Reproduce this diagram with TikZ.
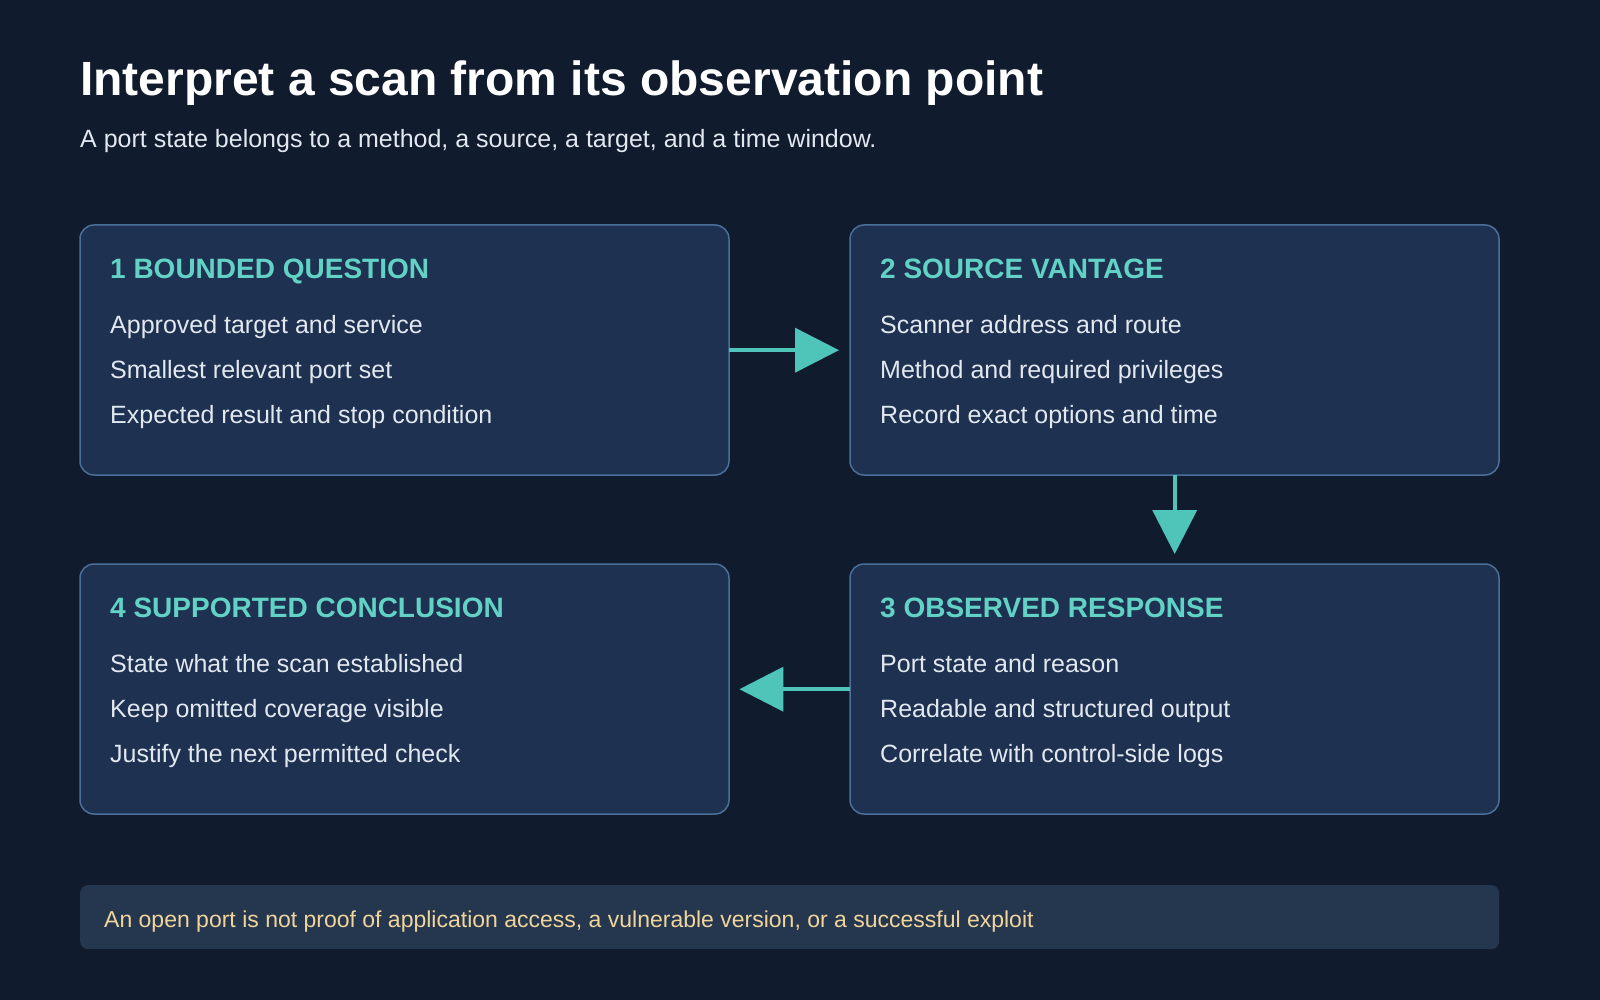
\documentclass[tikz,border=0pt]{standalone}
\usepackage{fontspec}
\setmainfont{Liberation Sans}
\usetikzlibrary{arrows.meta}
\definecolor{bgCol}{HTML}{111B2E}
\definecolor{boxFill}{HTML}{1E3150}
\definecolor{boxLine}{HTML}{4A6F9A}
\definecolor{headCol}{HTML}{62D2C6}
\definecolor{textCol}{HTML}{E2E8F0}
\definecolor{arrowCol}{HTML}{4FC4B8}
\definecolor{noteFill}{HTML}{25374F}
\definecolor{noteText}{HTML}{F0D49C}
\begin{document}
\begin{tikzpicture}
[x=1pt,y=-1pt,
  boxDecorate/.style={draw=boxLine,fill=boxFill,line width=1.5pt,rounded corners=14pt},%
  headDecorate/.style={anchor=base west,inner sep=0pt,text=headCol,font=\fontsize{28}{32}\selectfont\bfseries},%
  lineText/.style={anchor=base west,inner sep=0pt,text=textCol,font=\fontsize{25}{30}\selectfont},%
  flowArrow/.style={draw=arrowCol,line width=4pt,-{Triangle[width=44pt,length=44pt]}}]
\fill[bgCol] (0,0) rectangle (1600,1000);
%% title
\node[anchor=base west,inner sep=0pt,text=white,font=\fontsize{48}{56}\selectfont\bfseries] (title) at (80,96) {Interpret a scan from its observation point};
\node[lineText] (subtitle) at (80,148) {A port state belongs to a method, a source, a target, and a time window.};
%% step boxes
\foreach \boxname/\x/\y/\head/\la/\lb/\lc in {
  b1/80/225/1 BOUNDED QUESTION/Approved target and service/Smallest relevant port set/Expected result and stop condition,
  b2/850/225/2 SOURCE VANTAGE/Scanner address and route/Method and required privileges/Record exact options and time,
  b3/850/564/3 OBSERVED RESPONSE/Port state and reason/Readable and structured output/Correlate with control-side logs,
  b4/80/564/4 SUPPORTED CONCLUSION/State what the scan established/Keep omitted coverage visible/Justify the next permitted check}
{
  \path[boxDecorate] (\x,\y) rectangle +(649,250);
  \node[inner sep=0pt,minimum width=649pt,minimum height=250pt,anchor=north west] (\boxname) at (\x,\y) {};
  \node[headDecorate] (\boxname-h) at (\x+30,\y+53) {\head};
  \node[lineText] (\boxname-a) at (\x+30,\y+108) {\la};
  \node[lineText] (\boxname-b) at (\x+30,\y+153) {\lb};
  \node[lineText] (\boxname-c) at (\x+30,\y+198) {\lc};
}
%% connectors
\draw[flowArrow,shorten >=11pt] (b1.east) -- (b2.west);
\draw[flowArrow,shorten >=10pt] (b2.south) -- (b3.north);
\draw[flowArrow,shorten >=10pt] (b3.west) -- (b4.east);
%% note
\node[fill=noteFill,rounded corners=8pt,minimum width=1419pt,minimum height=64pt,anchor=north west,inner sep=0pt] (note) at (80,885) {};
\node[anchor=base west,inner sep=0pt,text=noteText,font=\fontsize{23}{28}\selectfont] (noteText) at (104,927) {An open port is not proof of application access, a vulnerable version, or a successful exploit};
\end{tikzpicture}
\end{document}
